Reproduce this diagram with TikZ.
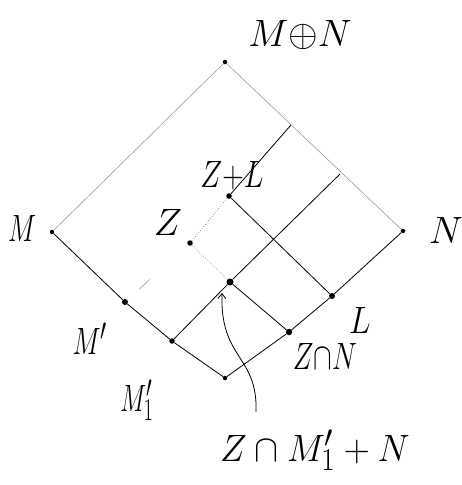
\documentclass[tikz,border=0pt]{standalone}
\usetikzlibrary{calc,arrows.meta}
\newcommand\hsc[2]{\scalebox{#1}[1.53]{#2}}
\begin{document}
\begin{tikzpicture}[x=1pt,y=-1pt,
  dot/.style={circle,fill=black,inner sep=0pt,minimum size=4.5pt},
  bigdot/.style={circle,fill=black,inner sep=0pt,minimum size=7pt},
  edge/.style={black,line width=0.8pt},
  faint/.style={black!45,line width=0.5pt},
  dotline/.style={black!55,line width=0.6pt,dotted},
  lab/.style={font=\Huge,inner sep=0pt}]
\useasboundingbox (0,0) rectangle (462,485);
% points
\node[dot] (top) at (225,62) {};
\node[dot] (M) at (52,232) {};
\node[dot] (N) at (403,231) {};
\node[dot] (bot) at (225,378) {};
\node[bigdot,minimum size=6pt] (Mp) at (125,302) {};
\node[dot,minimum size=5.5pt] (Mp1) at (172,341) {};
\node[dot,minimum size=5.5pt] (ZL) at (229,196) {};
\node[dot,minimum size=5.5pt] (Z) at (190,243) {};
\node[bigdot] (C) at (230,282) {};
\node[dot,minimum size=6pt] (L) at (332,296) {};
\node[dot,minimum size=6.5pt] (ZN) at (289,332) {};
\coordinate (E1) at (340,174);
\coordinate (E2) at (291,125);
\coordinate (A0) at (256,412);
\coordinate (A1) at (222,293);
% outer faint edges
\draw[faint] (top) -- (M);
\draw[faint] (top) -- (N);
% lower solid edges
\draw[edge] (M) -- (Mp) -- (Mp1) -- (bot);
\draw[edge] (N) -- (L) -- (ZN) -- (bot);
% inner lines
\draw[edge] (Mp1) -- (C) -- (E1);
\draw[edge] (E2) -- (ZL);
\draw[edge] (ZL) -- (L);
\draw[edge] (C) -- (ZN);
\draw[dotline] (ZL) -- (Z);
\draw[dotline] (Z) -- (C);
\draw[faint] ($(Mp)!0.22!(Z)$) -- ($(Mp)!0.38!(Z)$);
% arrow
\draw[edge,-{Straight Barb[length=5pt,width=8pt]}] (A0) .. controls (258,355) and (220,360) .. (A1);
% labels
\node[lab] (lMN) at (300,35) {\hsc{1.53}{$M{\oplus}N$}};
\node[lab] (lM) at (22,228) {\hsc{1.07}{$M$}};
\node[lab] (lN) at (446,230) {\hsc{1.53}{$N$}};
\node[lab] (lZL) at (232,176) {\hsc{1.19}{$Z{+}L$}};
\node[lab] (lZ) at (168,222) {\hsc{1.53}{$Z$}};
\node[lab] (lMp) at (90,339) {\hsc{1.07}{$M'$}};
\node[lab] (lL) at (360,320) {\hsc{1.30}{$L$}};
\node[lab] (lZN) at (325,356) {\hsc{1.12}{$Z{\cap}N$}};
\node[lab] (lMp1) at (137,400) {\hsc{0.99}{$M'_1$}};
\node[lab] (lbig) at (315,450) {\hsc{1.45}{$Z\cap M'_1+N$}};
\end{tikzpicture}
\end{document}
